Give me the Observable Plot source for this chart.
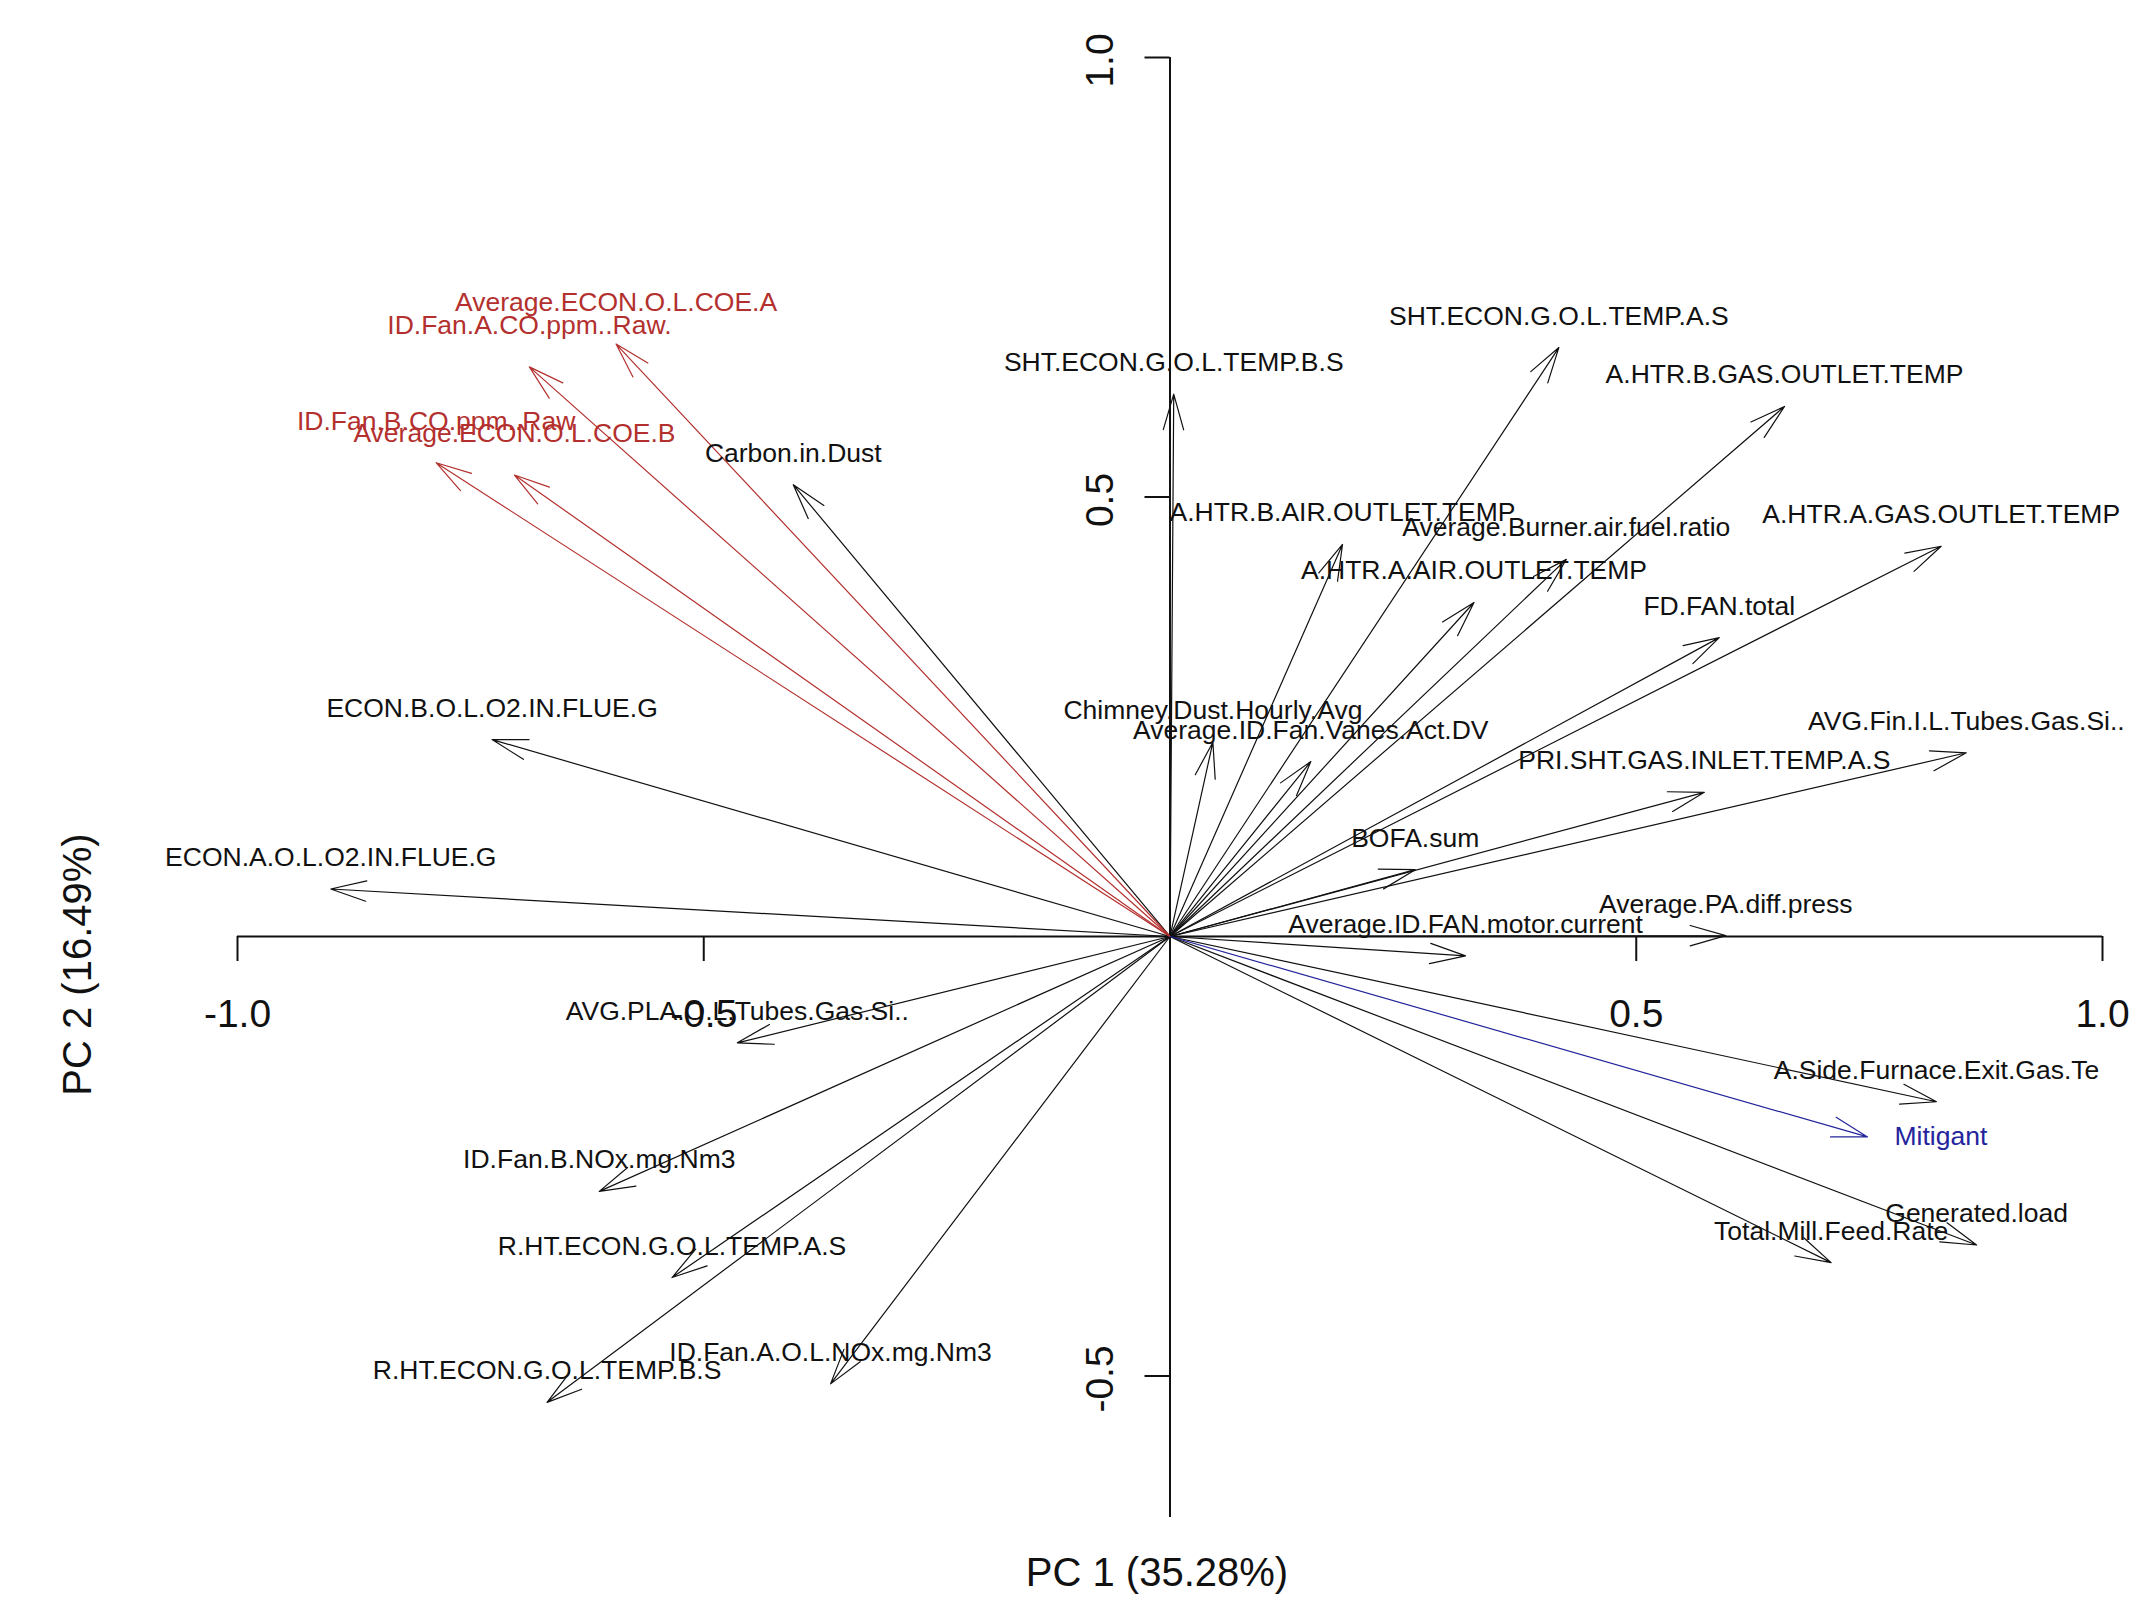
<!DOCTYPE html>
<html>
<head>
<meta charset="utf-8">
<script src="https://cdn.jsdelivr.net/npm/d3@7"></script>
<script src="https://cdn.jsdelivr.net/npm/@observablehq/plot@0.6"></script>
<style>
  html, body { margin: 0; padding: 0; background: #ffffff; }
  #chart svg { display: block; }
</style>
</head>
<body>
<div id="chart"></div>
<script>
// ---- Data (loadings) ----
const variables = [
  "Average.ECON.O.L.COE.A", "ID.Fan.A.CO.ppm..Raw.", "ID.Fan.B.CO.ppm..Raw", "Average.ECON.O.L.COE.B",
  "Carbon.in.Dust", "SHT.ECON.G.O.L.TEMP.B.S", "SHT.ECON.G.O.L.TEMP.A.S", "A.HTR.B.GAS.OUTLET.TEMP",
  "A.HTR.B.AIR.OUTLET.TEMP", "Average.Burner.air.fuel.ratio", "A.HTR.A.GAS.OUTLET.TEMP", "A.HTR.A.AIR.OUTLET.TEMP",
  "FD.FAN.total", "Chimney.Dust.Hourly.Avg", "Average.ID.Fan.Vanes.Act.DV", "AVG.Fin.I.L.Tubes.Gas.Si..",
  "PRI.SHT.GAS.INLET.TEMP.A.S", "BOFA.sum", "Average.PA.diff.press", "Average.ID.FAN.motor.current",
  "A.Side.Furnace.Exit.Gas.Te", "Mitigant", "Generated.load", "Total.Mill.Feed.Rate",
  "ECON.B.O.L.O2.IN.FLUE.G", "ECON.A.O.L.O2.IN.FLUE.G", "AVG.PLA.O.L.Tubes.Gas.Si..", "ID.Fan.B.NOx.mg.Nm3",
  "R.HT.ECON.G.O.L.TEMP.A.S", "R.HT.ECON.G.O.L.TEMP.B.S", "ID.Fan.A.O.L.NOx.mg.Nm3"
];
const pc1 = [
  -0.594, -0.687, -0.787, -0.703,
  -0.404, 0.004, 0.417, 0.659,
  0.185, 0.425, 0.827, 0.326,
  0.589, 0.046, 0.151, 0.854,
  0.573, 0.263, 0.596, 0.317,
  0.822, 0.748, 0.865, 0.709,
  -0.727, -0.900, -0.464, -0.612,
  -0.534, -0.668, -0.364
];
const pc2 = [
  0.674, 0.648, 0.539, 0.525,
  0.514, 0.617, 0.670, 0.603,
  0.446, 0.429, 0.444, 0.380,
  0.340, 0.221, 0.199, 0.209,
  0.164, 0.076, 0.001, -0.022,
  -0.188, -0.228, -0.351, -0.371,
  0.224, 0.054, -0.121, -0.290,
  -0.388, -0.530, -0.509
];
const groups = [
  "CO", "CO", "CO", "CO",
  "active", "active", "active", "active",
  "active", "active", "active", "active",
  "active", "active", "active", "active",
  "active", "active", "active", "active",
  "active", "supplementary", "active", "active",
  "active", "active", "active", "active",
  "active", "active", "active"
];
const xTicks = [-1.0, -0.5, 0.5, 1.0];
const yTicks = [1.0, 0.5, -0.5];
const xTitle = "PC 1 (35.28%)";
const yTitle = "PC 2 (16.49%)";
const yAxisExtent = [-0.661, 1.0];

const rows = variables.map((name, i) => ({name, pc1: pc1[i], pc2: pc2[i], group: groups[i]}));

// ---- Layout ----
const W = 2137, H = 1600;
const margin = {top: 57, right: 35, bottom: 83, left: 237};
const xDomain = [d3.min(xTicks), d3.max(xTicks)];
const yDomain = yAxisExtent;
const pxPerX = (W - margin.left - margin.right) / (xDomain[1] - xDomain[0]);
const pxPerY = (H - margin.top - margin.bottom) / (yDomain[1] - yDomain[0]);
const tickPx = 25;
const font = "'Liberation Sans', Arial, Helvetica, sans-serif";
const lineW = 1.2;

const fmt = (d) => d.toFixed(1);

const chart = Plot.plot({
  width: W,
  height: H,
  marginTop: margin.top,
  marginRight: margin.right,
  marginBottom: margin.bottom,
  marginLeft: margin.left,
  x: {domain: xDomain, axis: null},
  y: {domain: yDomain, axis: null},
  color: {domain: ["active", "CO", "supplementary"], range: ["#111111", "#b3302e", "#24249c"]},
  style: {fontFamily: font, background: "#ffffff", color: "#111"},
  marks: [
    // axes through the origin
    Plot.ruleY([0], {x1: () => xDomain[0], x2: () => xDomain[1], stroke: "#111", strokeWidth: 2}),
    Plot.ruleX([0], {y1: () => yAxisExtent[0], y2: () => yAxisExtent[1], stroke: "#111", strokeWidth: 2}),
    Plot.ruleX(xTicks, {x: (d) => d, y1: () => 0, y2: () => -tickPx / pxPerY, stroke: "#111", strokeWidth: 2}),
    Plot.ruleY(yTicks, {y: (d) => d, x1: () => -tickPx / pxPerX, x2: () => 0, stroke: "#111", strokeWidth: 2}),
    Plot.text(xTicks, {x: (d) => d, y: () => 0, text: fmt, fontSize: 39, lineAnchor: "bottom", textAnchor: "middle", dy: 91, fill: "#111"}),
    Plot.text(yTicks, {x: () => 0, y: (d) => d, text: fmt, fontSize: 39, rotate: -90, lineAnchor: "bottom", textAnchor: "middle", dx: -57, dy: 3, fill: "#111"}),
    // loading arrows
    Plot.arrow(rows.filter((d) => d.group === "active"), {x1: () => 0, y1: () => 0, x2: "pc1", y2: "pc2", stroke: "group", strokeWidth: lineW, headLength: 37 * 1.5 / lineW, headAngle: 32}),
    Plot.arrow(rows.filter((d) => d.group === "CO"), {x1: () => 0, y1: () => 0, x2: "pc1", y2: "pc2", stroke: "group", strokeWidth: lineW, headLength: 37 * 1.5 / lineW, headAngle: 32}),
    Plot.arrow(rows.filter((d) => d.group === "supplementary"), {x1: () => 0, y1: () => 0, x2: "pc1", y2: "pc2", stroke: "group", strokeWidth: lineW, headLength: 37 * 1.5 / lineW, headAngle: 32}),
    // labels
    Plot.text(rows.filter((d) => d.group === "active"), {x: "pc1", y: "pc2", text: "name", fill: "group", fontSize: 26.5, textAnchor: "middle", lineAnchor: "bottom", dy: -23}),
    Plot.text(rows.filter((d) => d.group === "CO"), {x: "pc1", y: "pc2", text: "name", fill: "group", fontSize: 26.5, textAnchor: "middle", lineAnchor: "bottom", dy: -33}),
    Plot.text(rows.filter((d) => d.group === "supplementary"), {x: "pc1", y: "pc2", text: "name", fill: "group", fontSize: 26.5, textAnchor: "start", lineAnchor: "middle", dx: 27}),
    // axis titles
    Plot.text([xTitle], {frameAnchor: "bottom", text: (d) => d, fontSize: 40, lineAnchor: "bottom", textAnchor: "middle", dx: -13, dy: 68, fill: "#111"}),
    Plot.text([yTitle], {frameAnchor: "left", text: (d) => d, fontSize: 40, rotate: -90, lineAnchor: "bottom", textAnchor: "middle", dx: -147, dy: 177, fill: "#111"})
  ]
});

document.getElementById("chart").appendChild(chart);
</script>
</body>
</html>
